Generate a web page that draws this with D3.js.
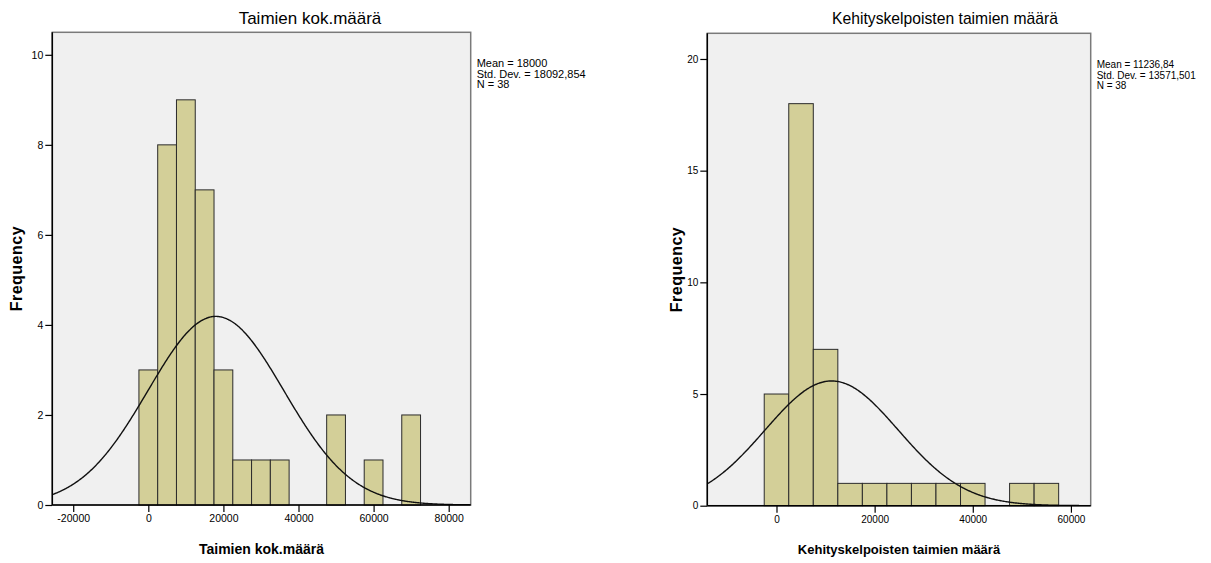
<!DOCTYPE html>
<html>
<head>
<meta charset="utf-8">
<script src="https://cdn.jsdelivr.net/npm/d3@7/dist/d3.min.js"></script>
<style>
  body { margin: 0; background: #fff; }
  text { font-family: "Liberation Sans", Arial, sans-serif; fill: #000; }
</style>
</head>
<body>
<svg id="chart" width="1211" height="563"></svg>
<script>
// histogram bins are 5000 wide, centred on the values below
var binWidth = 5000;

var leftTitle = "Taimien kok.määrä";
var leftCenters = [0, 5000, 10000, 15000, 20000, 25000, 30000, 35000, 50000, 60000, 70000];
var leftCounts  = [3, 8, 9, 7, 3, 1, 1, 1, 2, 1, 2];
var leftXTicks  = [-20000, 0, 20000, 40000, 60000, 80000];
var leftYTicks  = [0, 2, 4, 6, 8, 10];
var leftStats   = ["Mean = 18000", "Std. Dev. = 18092,854", "N = 38"];
var leftMean = 18000, leftSd = 18092.854;

var rightTitle = "Kehityskelpoisten taimien määrä";
var rightCenters = [0, 5000, 10000, 15000, 20000, 25000, 30000, 35000, 40000, 50000, 55000];
var rightCounts  = [5, 18, 7, 1, 1, 1, 1, 1, 1, 1, 1];
var rightXTicks  = [0, 20000, 40000, 60000];
var rightYTicks  = [0, 5, 10, 15, 20];
var rightStats   = ["Mean = 11236,84", "Std. Dev. = 13571,501", "N = 38"];
var rightMean = 11236.84, rightSd = 13571.501;

var nCases = 38;

var svg = d3.select("#chart");

function drawHistogram(cfg, id) {
	var g = svg.append("g").attr("class", "hist-" + id);

	var x = d3.scaleLinear().domain(cfg.xDomain).range([cfg.left, cfg.right]);
	var y = d3.scaleLinear().domain([0, cfg.yMax]).range([cfg.bottom, cfg.top]);

	// plot background + frame
	g.append("rect")
		.attr("x", cfg.left).attr("y", cfg.top)
		.attr("width", cfg.right - cfg.left)
		.attr("height", cfg.bottom - cfg.top)
		.attr("fill", "#f0f0f0")
		.attr("stroke", "#7a7a7a")
		.attr("stroke-width", 1.5);

	var clipId = "clip-" + id;
	g.append("clipPath").attr("id", clipId)
		.append("rect")
		.attr("x", cfg.left).attr("y", cfg.top)
		.attr("width", cfg.right - cfg.left)
		.attr("height", cfg.bottom - cfg.top);

	// bars
	g.selectAll(".bar")
		.data(cfg.centers)
		.enter()
		.append("rect")
			.attr("class", "bar")
			.attr("x", function(c) { return x(c - binWidth / 2); })
			.attr("y", function(c, i) { return y(cfg.counts[i]); })
			.attr("width", function(c) { return x(c + binWidth / 2) - x(c - binWidth / 2); })
			.attr("height", function(c, i) { return y(0) - y(cfg.counts[i]); })
			.attr("fill", "#d3cf98")
			.attr("stroke", "#2b2b2b")
			.attr("stroke-width", 1);

	// fitted normal curve
	var scaleN = nCases * binWidth / (cfg.sd * Math.sqrt(2 * Math.PI));
	var pts = d3.range(cfg.xDomain[0], cfg.xDomain[1] + 200, 200).map(function(v) {
		var z = (v - cfg.mean) / cfg.sd;
		return [v, scaleN * Math.exp(-0.5 * z * z)];
	});
	g.append("path")
		.datum(pts)
		.attr("clip-path", "url(#" + clipId + ")")
		.attr("fill", "none")
		.attr("stroke", "#111")
		.attr("stroke-width", 1.4)
		.attr("d", d3.line()
			.x(function(p) { return x(p[0]); })
			.y(function(p) { return y(p[1]); })
			.curve(d3.curveBasis));

	// axes
	var xAxis = g.append("g")
		.attr("transform", "translate(0," + cfg.bottom + ")")
		.call(d3.axisBottom(x).tickValues(cfg.xTicks).tickSize(7).tickPadding(3)
			.tickFormat(function(d) { return String(d); }));
	var yAxis = g.append("g")
		.attr("transform", "translate(" + cfg.left + ",0)")
		.call(d3.axisLeft(y).tickValues(cfg.yTicks).tickSize(7).tickPadding(2)
			.tickFormat(function(d) { return String(d); }));
	[xAxis, yAxis].forEach(function(a) {
		a.select(".domain").remove();
		a.selectAll("line").attr("stroke", "#000").attr("stroke-width", 1.2);
		a.selectAll("text")
			.attr("font-family", "Liberation Sans, Arial, sans-serif")
			.attr("font-size", cfg.tickSize + "px")
			.attr("fill", "#000");
	});
	g.append("line")
		.attr("x1", cfg.left).attr("x2", cfg.right)
		.attr("y1", cfg.bottom).attr("y2", cfg.bottom)
		.attr("stroke", "#000").attr("stroke-width", 1.5);
	g.append("line")
		.attr("x1", cfg.left).attr("x2", cfg.left)
		.attr("y1", cfg.top).attr("y2", cfg.bottom)
		.attr("stroke", "#000").attr("stroke-width", 1.5);

	// titles
	g.append("text")
		.attr("x", cfg.titleX).attr("y", cfg.titleY)
		.attr("text-anchor", "middle")
		.attr("font-size", cfg.titleSize + "px")
		.text(cfg.title);
	g.append("text")
		.attr("x", (cfg.left + cfg.right) / 2).attr("y", cfg.xLabelY)
		.attr("text-anchor", "middle")
		.attr("font-weight", "bold")
		.attr("font-size", cfg.xLabelSize + "px")
		.text(cfg.title);
	g.append("text")
		.attr("transform", "translate(" + cfg.yLabelX + "," + (cfg.top + cfg.bottom) / 2 + ") rotate(-90)")
		.attr("text-anchor", "middle")
		.attr("font-weight", "bold")
		.attr("font-size", "16px")
		.attr("letter-spacing", "0.5px")
		.text("Frequency");

	// stats legend
	g.selectAll(".stat")
		.data(cfg.stats)
		.enter()
		.append("text")
			.attr("class", "stat")
			.attr("x", cfg.right + 6)
			.attr("y", function(s, i) { return cfg.statY + i * 10.5; })
			.attr("font-size", cfg.statSize + "px")
			.text(function(s) { return s; });
}

drawHistogram({
	title: leftTitle, centers: leftCenters, counts: leftCounts,
	xTicks: leftXTicks, yTicks: leftYTicks, stats: leftStats,
	mean: leftMean, sd: leftSd,
	xDomain: [-25570, 85860], yMax: 10.5,
	left: 52.3, right: 470.7, top: 32.3, bottom: 505,
	titleX: 310, titleY: 24, titleSize: 17,
	xLabelY: 554, xLabelSize: 14, yLabelX: 22,
	statY: 67, statSize: 11, tickSize: 10.5
}, "left");

drawHistogram({
	title: rightTitle, centers: rightCenters, counts: rightCounts,
	xTicks: rightXTicks, yTicks: rightYTicks, stats: rightStats,
	mean: rightMean, sd: rightSd,
	xDomain: [-14100, 64030], yMax: 21.15,
	left: 707.3, right: 1090.7, top: 33.3, bottom: 505.7,
	titleX: 945, titleY: 24, titleSize: 15.7,
	xLabelY: 554, xLabelSize: 13, yLabelX: 682,
	statY: 68, statSize: 10, tickSize: 10
}, "right");
</script>
</body>
</html>
